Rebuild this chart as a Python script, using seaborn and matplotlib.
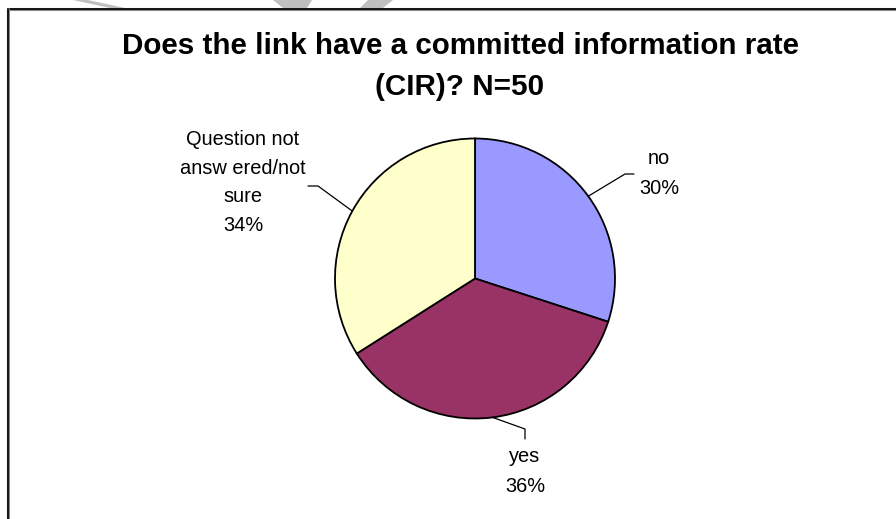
import matplotlib
matplotlib.use("Agg")
import matplotlib.pyplot as plt
import seaborn as sns
import numpy as np
from matplotlib.lines import Line2D
from matplotlib.patches import Polygon

# ---- data ----
categories = ["no", "yes", "Question not\nansw ered/not\nsure"]
values = [30, 36, 34]
colors = ["#9999FF", "#993366", "#FFFFCC"]
title = "Does the link have a committed information rate\n(CIR)? N=50"

sns.set_theme(style="white")
plt.rcParams["font.family"] = ["Liberation Sans", "DejaVu Sans"]

W, H = 896, 519
fig = plt.figure(figsize=(W / 100, H / 100), dpi=100)
fig.patch.set_facecolor("white")

# pie geometry in pixels
cx, cy, R = 475.0, 278.5, 140.0
ax = fig.add_axes([(cx - R) / W, (H - cy - R) / H, 2 * R / W, 2 * R / H])

wedges, _ = ax.pie(values, colors=colors, startangle=90, counterclock=False,
                   radius=1.0, wedgeprops=dict(edgecolor="black", linewidth=1.3))
ax.set_xlim(-1, 1)
ax.set_ylim(-1, 1)
ax.set_aspect("equal")
ax.axis("off")

def px2d(px, py):
    return (px - cx) / R, (cy - py) / R

# label layout (pixel coords): text anchor (center x, last-line baseline), elbow, end
layout = [
    dict(text=(659, 194), elbow=(625, 174), end=(634, 174), ls=1.72),
    dict(text=(525, 492), elbow=(525, 429), end=(525, 439), ls=1.72),
    dict(text=(243, 231), elbow=(318, 186), end=(308, 186), ls=1.64),
]

total = sum(values)
for w, cat, v, lay in zip(wedges, categories, values, layout):
    mid = np.deg2rad((w.theta1 + w.theta2) / 2)
    ex, ey = np.cos(mid), np.sin(mid)
    bx, by = px2d(*lay["elbow"])
    fx, fy = px2d(*lay["end"])
    ax.add_line(Line2D([ex, bx, fx], [ey, by, fy], color="black", lw=0.9,
                       clip_on=False))
    tx, ty = px2d(*lay["text"])
    ax.text(tx, ty, f"{cat}\n{round(100 * v / total)}%", ha="center", va="baseline",
            fontsize=14.4, linespacing=lay["ls"], color="black", clip_on=False)

# title
fig.text(460 / W, 1 - 95 / H, title, ha="center", va="baseline", fontsize=21.3,
         fontweight="bold", linespacing=1.6, color="black")

# frame (top and left edges)
fig.add_artist(Line2D([8 / W, 1], [1 - 9 / H, 1 - 9 / H], transform=fig.transFigure,
                      color="#888888", lw=2.2))
fig.add_artist(Line2D([8 / W, 1], [1 - 8.5 / H, 1 - 8.5 / H], transform=fig.transFigure,
                      color="black", lw=1.2))
fig.add_artist(Line2D([8 / W, 8 / W], [0, 1 - 8.5 / H], transform=fig.transFigure,
                      color="#888888", lw=2.2))
fig.add_artist(Line2D([7.5 / W, 7.5 / W], [0, 1 - 8.5 / H], transform=fig.transFigure,
                      color="black", lw=1.2))

# faint watermark fragments at the top edge
shapes = [
    [(73, 0), (88, 0), (125, 8), (110, 8)],
    [(273, 0), (312, 0), (307, 8), (283, 8)],
    [(368, 0), (393, 0), (383, 8), (360, 8)],
]
for s in shapes:
    pts = [(x / W, 1 - y / H) for x, y in s]
    fig.add_artist(Polygon(pts, closed=True, transform=fig.transFigure,
                           facecolor="#C0C0C0", edgecolor="none", zorder=0))

fig.savefig("out.png", dpi=100, facecolor="white")
